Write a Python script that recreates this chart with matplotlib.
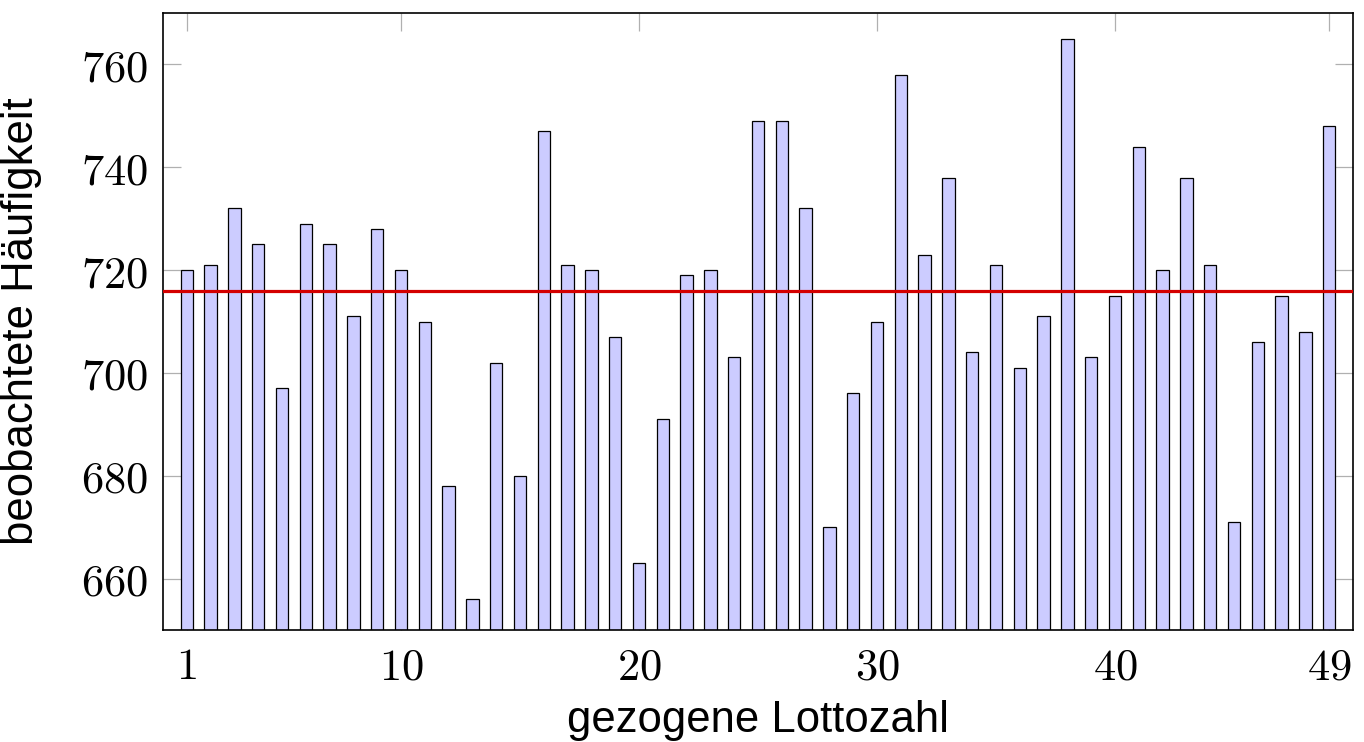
import matplotlib
matplotlib.use('Agg')
import matplotlib.pyplot as plt
import numpy as np

plt.rcParams['mathtext.fontset'] = 'cm'

# Lottozahlen 1..49 und beobachtete Häufigkeiten
zahlen = np.arange(1, 50)
haeufigkeit = [720, 721, 732, 725, 697, 729, 725, 711, 728, 720,
               710, 678, 656, 702, 680, 747, 721, 720, 707, 663,
               691, 719, 720, 703, 749, 749, 732, 670, 696, 710,
               758, 723, 738, 704, 721, 701, 711, 765, 703, 715,
               744, 720, 738, 721, 671, 706, 715, 708, 748]
erwartet = 715.9

x_ticks = [1, 10, 20, 30, 40, 49]
y_ticks = [660, 680, 700, 720, 740, 760]

fig = plt.figure(figsize=(13.64, 7.42), dpi=100)
ax = fig.add_axes([163/1364, 1 - 630/742, (1353-163)/1364, (630-13)/742])

ax.bar(zahlen, haeufigkeit, width=0.52, bottom=0, color='#ccccff',
       edgecolor='black', linewidth=0.9, zorder=2)
ax.axhline(erwartet, color='#d40000', linewidth=2.3, zorder=3)

ax.set_xlim(0, 50)
ax.set_ylim(650, 770)

ax.set_xticks(x_ticks)
ax.set_xticklabels([f'${t}$' for t in x_ticks])
ax.set_yticks(y_ticks)
ax.set_yticklabels([f'${t}$' for t in y_ticks])
ax.tick_params(direction='in', length=13, width=0.9, color='#b0b0b0',
               top=True, right=True, labelsize=32, pad=11)
for s in ax.spines.values():
    s.set_linewidth(1.2)

ax.set_xlabel('gezogene Lottozahl', fontsize=31.4, family='Liberation Sans')
ax.set_ylabel('beobachtete Häufigkeit', fontsize=31.4, family='Liberation Sans')
ax.xaxis.set_label_coords(0.5, -0.113)
ax.yaxis.set_label_coords(-0.1017, 0.5)

fig.savefig('out.png', dpi=100)
